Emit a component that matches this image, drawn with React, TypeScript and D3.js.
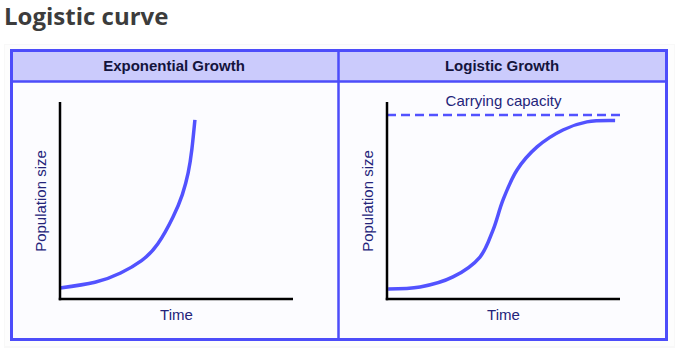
import React from "react";
import * as d3 from "d3";

// ---- data ----
const title = "Logistic curve";
const panelTitles = ["Exponential Growth", "Logistic Growth"];
const xLabel = "Time";
const yLabel = "Population size";
const capacityLabel = "Carrying capacity";

// exponential growth (time, population) on a 0..10 scale
const expTime = [0, 1.5, 2.6, 3.5, 4.2, 4.85, 5.25, 5.5, 5.66, 5.79];
const expPop = [0.56, 0.85, 1.32, 1.95, 2.8, 4.16, 5.3, 6.4, 7.6, 9.09];

// logistic growth
const logTime = [0.05, 1.42, 2.83, 3.99, 4.55, 4.98, 5.58, 6.44, 7.55, 8.58, 9.79];
const logPop = [0.51, 0.61, 1.12, 2.13, 3.5, 5.03, 6.55, 7.72, 8.58, 8.99, 9.06];

const capacity = 9.34;
const capacityEnd = 10.2;

const W = 677;
const H = 358;

const BLUE = "#4d4dfa";
const CURVE = "#5252ff";
const NAVY = "#24247a";

function Panel({ x0, name, times, pops, showCap, curve }: any) {
  const xs = d3.scaleLinear().domain([0, 10]).range([x0, x0 + 233]);
  const ys = d3.scaleLinear().domain([0, 10]).range([299, 102]);
  const pts = times.map((t: number, i: number) => [t, pops[i]] as [number, number]);
  const line = d3
    .line<[number, number]>()
    .x((d) => xs(d[0]))
    .y((d) => ys(d[1]))
    .curve(curve);
  const [yb, yt] = ys.range();
  const [xl, xr] = xs.range();
  return (
    <g>
      {showCap && (
        <>
          <line
            x1={xs(0)}
            x2={xs(capacityEnd)}
            y1={ys(capacity)}
            y2={ys(capacity)}
            stroke={CURVE}
            strokeWidth={2.5}
            strokeDasharray="9,5"
          />
          <text
            x={xs(5)}
            y={106}
            textAnchor="middle"
            fontFamily="Liberation Sans, Arial, sans-serif"
            fontSize={15}
            fill={NAVY}
          >
            {capacityLabel}
          </text>
        </>
      )}
      <path d={line(pts) || ""} fill="none" stroke={CURVE} strokeWidth={3.5} strokeLinecap="butt" />
      <line x1={xl} x2={xl} y1={yt} y2={yb + 1.25} stroke="#000" strokeWidth={2.5} />
      <line x1={xl - 1.25} x2={xr} y1={yb} y2={yb} stroke="#000" strokeWidth={2.5} />
      <text
        x={xs(5)}
        y={320}
        textAnchor="middle"
        fontFamily="Liberation Sans, Arial, sans-serif"
        fontSize={15}
        fill={NAVY}
      >
        {xLabel}
      </text>
      <text
        transform={`translate(${xl - 14},201) rotate(-90)`}
        textAnchor="middle"
        fontFamily="Liberation Sans, Arial, sans-serif"
        fontSize={15}
        fill={NAVY}
      >
        {yLabel}
      </text>
      <text
        x={name === panelTitles[0] ? 174 : 502}
        y={71}
        textAnchor="middle"
        fontFamily="Liberation Sans, Arial, sans-serif"
        fontWeight="bold"
        fontSize={15}
        fill="#14143c"
      >
        {name}
      </text>
    </g>
  );
}

export default function App() {
  return (
    <svg
      width={W}
      height={H}
      style={{ position: "absolute", left: 0, top: 0, display: "block", background: "#fff" }}
    >
      <rect x={0} y={0} width={W} height={H} fill="#fff" />
      <text
        x={4}
        y={25}
        fontFamily="Open Sans, sans-serif"
        fontWeight={700}
        fontSize={24}
        fill="#3c3c3c"
      >
        {title}
      </text>
      {/* card */}
      <rect x={4} y={44} width={671} height={304} fill="#f8f8f8" />
      <rect x={5} y={45} width={669} height={301} fill="#fdfdfd" />
      {/* frame */}
      <rect x={11.5} y={50.5} width={655} height={289} fill="#fcfcff" stroke={BLUE} strokeWidth={3} />
      <rect x={13} y={52} width={652} height={29} fill="#cbcbfc" />
      <line x1={13} x2={665} y1={81.5} y2={81.5} stroke={BLUE} strokeWidth={2.5} />
      <line x1={338.5} x2={338.5} y1={52} y2={338} stroke={BLUE} strokeWidth={2.5} />
      <Panel x0={60} name={panelTitles[0]} times={expTime} pops={expPop} showCap={false} curve={d3.curveNatural} />
      <Panel x0={387} name={panelTitles[1]} times={logTime} pops={logPop} showCap={true} curve={d3.curveCatmullRom.alpha(0.5)} />
    </svg>
  );
}
